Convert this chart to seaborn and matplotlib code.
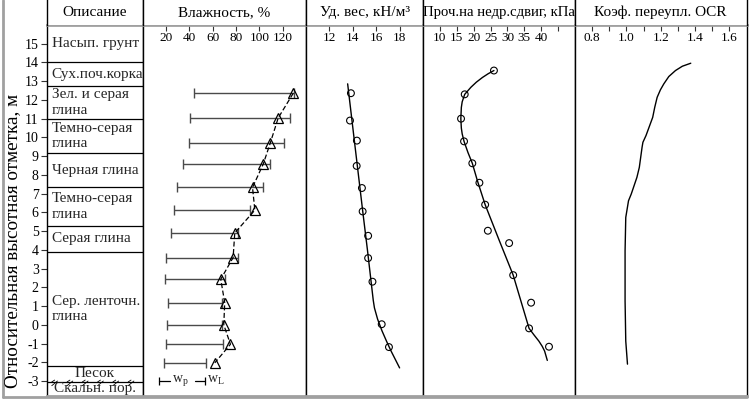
import numpy as np
import pandas as pd
import matplotlib
matplotlib.use("Agg")
import matplotlib.pyplot as plt
from matplotlib.lines import Line2D
import seaborn as sns

# ---------------- data ----------------
layer_names = ["Насып. грунт", "Сух.поч.корка", "Зел. и серая\nглина", "Темно-серая\nглина",
               "Черная глина", "Темно-серая\nглина", "Серая глина", "Сер. ленточн.\nглина",
               "Песок", "Скальн. пор."]
layer_bounds = [16.0, 14.0, 12.73, 11.0, 9.15, 7.33, 5.28, 3.9, -2.2, -3.05, -3.8]

moist_elev = [12.36, 11.04, 9.70, 8.58, 7.33, 6.12, 4.90, 3.59, 2.43, 1.18, 0.0, -1.04, -2.03]
w_nat = [129.1, 116.2, 109.4, 103.4, 94.2, 96.2, 79.0, 77.6, 67.0, 70.4, 69.6, 75.3, 61.9]
w_p = [44.1, 40.6, 39.5, 34.4, 29.5, 26.9, 24.1, 20.4, 19.5, 21.7, 20.9, 20.4, 18.3]
w_L = [129.5, 126.5, 120.9, 108.8, 103.1, 91.9, 81.4, 81.4, 70.4, 68.1, 68.1, 69.0, 54.7]

uw_elev = [12.36, 10.9, 9.83, 8.48, 7.3, 6.05, 4.75, 3.56, 2.3, 0.03, -1.19]
uw_val = [13.84, 13.76, 14.35, 14.33, 14.78, 14.84, 15.31, 15.31, 15.68, 16.47, 17.09]
uw_fit_elev = [12.86, 10.0, 8.0, 6.0, 4.0, 2.0, 1.3, 0.9, 0.3, -0.33, -0.9, -1.4, -2.3]
uw_fit_val = [13.56, 14.1, 14.48, 14.86, 15.25, 15.62, 15.75, 15.85, 16.12, 16.5, 16.9, 17.27, 18.0]

su_elev = [13.57, 12.3, 11.0, 9.79, 8.62, 7.58, 6.41, 5.02, 4.36, 2.65, 1.18, -0.19, -1.17]
su_val = [26.0, 17.35, 16.26, 17.15, 19.6, 21.7, 23.4, 24.2, 30.5, 31.7, 37.0, 36.4, 42.3]
su_fit_elev = [13.57, 13.4, 13.2, 12.95, 12.68, 12.3, 11.9, 11.6, 11.0, 10.5, 10.19, 9.79,
               9.2, 8.62, 7.69, 6.41, 4.49, 2.65, 1.2, -0.19, -0.55, -0.87, -1.15, -1.4, -1.9]
su_fit_val = [26.0, 24.3, 22.6, 20.8, 19.2, 17.35, 16.6, 16.35, 16.2, 16.35, 16.6, 17.15,
              18.3, 19.6, 21.1, 23.4, 27.6, 31.7, 34.1, 36.4, 37.9, 39.3, 40.3, 41.0, 41.8]

ocr_elev = [13.96, 13.80, 13.57, 13.25, 12.86, 12.54, 12.14, 11.61, 11.07, 10.1, 9.74, 9.47,
            8.4, 7.87, 7.33, 6.98, 6.62, 5.73, 3.95, 1.27, -0.87, -2.1]
ocr_val = [1.375, 1.326, 1.286, 1.247, 1.218, 1.198, 1.179, 1.165, 1.153, 1.114, 1.096, 1.091,
           1.075, 1.061, 1.041, 1.028, 1.012, 0.996, 0.992, 0.992, 0.996, 1.006]

headers = ["Описание", "Влажность, %", "Уд. вес, кН/м³", "Проч.на недр.сдвиг, кПа",
           "Коэф. переупл. OCR"]
y_ticks = list(range(-3, 16))
moist_ticks = [20, 40, 60, 80, 100, 120]
uw_ticks = [12, 14, 16, 18]
su_ticks = [10, 15, 20, 25, 30, 35, 40, 45]
su_labels = ["10", "15", "20", "25", "30", "35", "40", ""]
ocr_ticks = [0.8, 0.9, 1.0, 1.1, 1.2, 1.3, 1.4, 1.5, 1.6]
ocr_labels = ["0.8", "", "1.0", "", "1.2", "", "1.4", "", "1.6"]
y_label = "Относительная высотная отметка, м"

# ---------------- style ----------------
sns.set_theme(style="white")
plt.rcParams["font.family"] = ["Liberation Serif", "DejaVu Serif"]
plt.rcParams["mathtext.fontset"] = "custom"
plt.rcParams["mathtext.rm"] = "Liberation Serif"
plt.rcParams["mathtext.it"] = "Liberation Serif:italic"

W, H = 749, 403
fig = plt.figure(figsize=(W / 100, H / 100), dpi=100)
fig.patch.set_facecolor("white")

col_px = [47, 142.5, 306, 423, 575, 746.5]
top_px, head_px, bot_px = 0, 25, 396
GREY = "#a0a0a0"


def fx(px):
    return px / W


def fy(py):
    return 1 - py / H


main_axes, head_axes = [], []
for i in range(5):
    l = fx(col_px[i])
    w = fx(col_px[i + 1]) - l
    kw = {} if i == 0 else {"sharey": main_axes[0]}
    ax = fig.add_axes([l, fy(bot_px), w, fy(head_px) - fy(bot_px)], **kw)
    hx = fig.add_axes([l, fy(head_px), w, fy(top_px) - fy(head_px)])
    for a in (ax, hx):
        a.set_facecolor("white")
        a.grid(False)
    for s in ("left", "right"):
        ax.spines[s].set_color("black")
        ax.spines[s].set_linewidth(1.0)
        hx.spines[s].set_color("black")
        hx.spines[s].set_linewidth(1.0)
    ax.spines["top"].set_color(GREY)
    ax.spines["top"].set_linewidth(2.0)
    ax.spines["bottom"].set_color(GREY)
    ax.spines["bottom"].set_linewidth(2.0)
    hx.spines["top"].set_visible(False)
    hx.spines["bottom"].set_visible(False)
    hx.set_xticks([])
    hx.set_yticks([])
    hx.set_xlim(0, 1)
    hx.set_ylim(0, 1)
    hx.text(0.5, 0.5, headers[i], ha="center", va="center", fontsize=11 if i != 3 else 10.6,
            color="black")
    main_axes.append(ax)
    head_axes.append(hx)

ax_d, ax_w, ax_u, ax_s, ax_o = main_axes

# ---- description column ----
ax_d.set_xlim(0, 1)
ax_d.set_xticks([])
for b in layer_bounds[1:-2]:
    ax_d.axhline(b, color="black", lw=0.9)
rock = layer_bounds[-2]
ax_d.axhline(rock, color="black", lw=0.9)
for hxp in np.arange(0.08, 1.0, 0.16):
    ax_d.plot([hxp - 0.03, hxp + 0.03], [rock - 0.2, rock + 0.05], color="black", lw=0.6)
    ax_d.plot([hxp - 0.03, hxp], [rock + 0.0, rock + 0.1], color="black", lw=0.6)
for k, name in enumerate(layer_names):
    yc = (layer_bounds[k] + layer_bounds[k + 1]) / 2
    if name in ("Песок", "Скальн. пор."):
        ax_d.text(0.5, yc, name, ha="center", va="center", fontsize=11, linespacing=1.25)
    else:
        ax_d.text(0.05, yc, name, ha="left", va="center", fontsize=11, linespacing=1.25)
ax_d.set_yticks(y_ticks)
ax_d.set_yticklabels([str(t) for t in y_ticks])
ax_d.tick_params(axis="y", left=True, direction="out", length=4, width=0.8, color="#333333",
                 pad=2, labelsize=10, labelcolor="black")

# ---- moisture ----
mid = [(a + b) / 2 for a, b in zip(w_p, w_L)]
half = [(b - a) / 2 for a, b in zip(w_p, w_L)]
ax_w.errorbar(x=mid, y=moist_elev, xerr=half, fmt="none", ecolor="#4a4a4a", elinewidth=1.0,
              capsize=3.5, capthick=1.0)
df_w = pd.DataFrame({"w": w_nat, "elev": moist_elev})
sns.lineplot(data=df_w, x="w", y="elev", sort=False, estimator=None, ax=ax_w, color="black",
             lw=0.9, linestyle=(0, (4, 2)), marker="^", markersize=6.5, markerfacecolor="none",
             markeredgecolor="black", markeredgewidth=0.9)
ax_w.set_xlim(0, 140)
ax_w.set_xticks(moist_ticks)
# legend for plastic / liquid limits
ly = -3.0
ax_w.plot([14.3, 23.7], [ly, ly], color="black", lw=0.9)
ax_w.plot([14.3], [ly], marker="|", markersize=6, color="black", mew=0.9)
ax_w.text(25.0, ly + 0.05, r"$\mathrm{w}_\mathrm{p}$", ha="left", va="center", fontsize=10)
ax_w.plot([45.0, 53.6], [ly, ly], color="black", lw=0.9)
ax_w.plot([53.6], [ly], marker="|", markersize=6, color="black", mew=0.9)
ax_w.text(55.3, ly + 0.05, r"$\mathrm{w}_\mathrm{L}$", ha="left", va="center", fontsize=10)

# ---- unit weight ----
sns.lineplot(x=uw_fit_val, y=uw_fit_elev, sort=False, estimator=None, ax=ax_u, color="black",
             lw=1.0)
sns.scatterplot(x=uw_val, y=uw_elev, ax=ax_u, marker="o", s=24, color="black",
                facecolor="none", edgecolor="black", linewidth=0.8)
ax_u.set_xlim(10, 20)
ax_u.set_xticks(uw_ticks)

# ---- undrained shear strength ----
sns.lineplot(x=su_fit_val, y=su_fit_elev, sort=False, estimator=None, ax=ax_s, color="black",
             lw=1.0)
sns.scatterplot(x=su_val, y=su_elev, ax=ax_s, marker="o", s=24, color="black",
                facecolor="none", edgecolor="black", linewidth=0.8)
ax_s.set_xlim(5, 50)
ax_s.set_xticks(su_ticks)
ax_s.set_xticklabels(su_labels)

# ---- OCR ----
sns.lineplot(x=ocr_val, y=ocr_elev, sort=False, estimator=None, ax=ax_o, color="black", lw=1.0)
ax_o.set_xlim(0.7, 1.7)
ax_o.set_xticks(ocr_ticks)
ax_o.set_xticklabels(ocr_labels)

for ax in (ax_w, ax_u, ax_s, ax_o):
    ax.xaxis.set_ticks_position("top")
    ax.tick_params(axis="x", which="both", direction="in", length=4, width=0.8,
                   color="#333333", pad=-13.5, labelsize=9.5, labeltop=True,
                   labelbottom=False, bottom=False, top=True, labelcolor="black")
    ax.tick_params(axis="y", left=False, labelleft=False, right=False, labelright=False)

for ax in main_axes:
    ax.set_xlabel("")
    ax.set_ylabel("")
ax_d.set_ylim(-3.8, 16)

fig.text(fx(13), fy(241), y_label, rotation=90, ha="center", va="center", fontsize=13.8,
         color="black")

# outer frame
fig.add_artist(Line2D([fx(3), fx(3)], [fy(397), 1.0], color=GREY, lw=2))
fig.add_artist(Line2D([fx(3), fx(747)], [fy(397), fy(397)], color=GREY, lw=2))

fig.savefig("out.png", dpi=100, facecolor="white")
